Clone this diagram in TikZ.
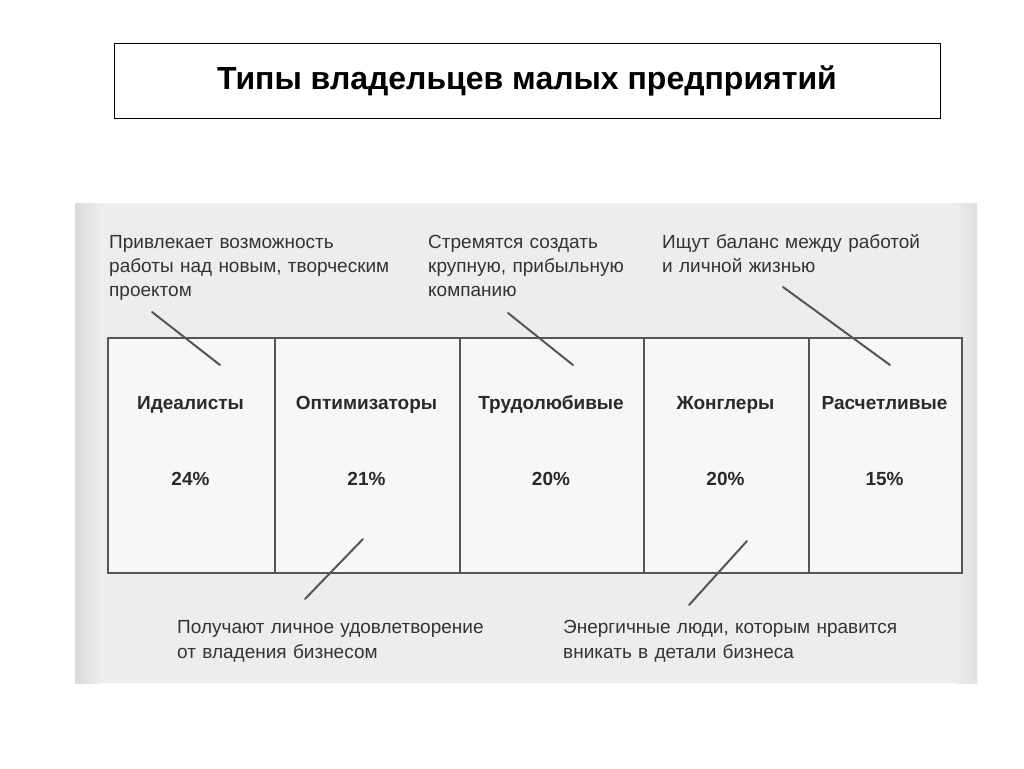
\documentclass[tikz,border=0pt]{standalone}
\usepackage{fontspec}
\setmainfont{Liberation Sans}
\definecolor{labelgray}{HTML}{333333}
\definecolor{hdrgray}{HTML}{2A2A2A}
\definecolor{linegray}{HTML}{555555}
\definecolor{scangray}{HTML}{EDEDED}
\definecolor{scandark}{HTML}{DADADA}
\definecolor{cellwhite}{HTML}{F7F7F7}
\begin{document}
\begin{tikzpicture}[x=1pt,y=-1pt,
  lbl/.style={anchor=base west, inner sep=0pt, text width=360pt, align=left, text=labelgray, font=\fontsize{19}{24}\selectfont},
  hdr/.style={anchor=base, inner sep=0pt, text=hdrgray, font=\bfseries\fontsize{19}{22}\selectfont},
  cellbox/.style={draw=linegray, line width=2pt, fill=cellwhite, inner sep=0pt, anchor=north west, minimum height=235pt},
  conn/.style={draw=linegray, line width=2pt, line cap=round},
  titlebox/.style={draw=black, line width=1pt, fill=white, minimum width=826pt, minimum height=74pt, inner sep=0pt, font=\bfseries\fontsize{32}{36}\selectfont}]
\useasboundingbox (0,0) rectangle (1024,768);
\fill[white] (0,0) rectangle (1024,768);
% title
\node[titlebox] (title) at (527,81) {Типы владельцев малых предприятий};
% scanned page
\fill[scangray] (75,203) rectangle (977,683);
\shade[left color=scandark, right color=scangray] (75,203) rectangle (100,683);
\shade[left color=scangray, right color=scandark!70!scangray] (955,203) rectangle (977,683);
% table cells
\node[cellbox, minimum width=167pt] (cell1) at (107,337) {};
\node[cellbox, minimum width=185pt] (cell2) at (274,337) {};
\node[cellbox, minimum width=184pt] (cell3) at (459,337) {};
\node[cellbox, minimum width=165pt] (cell4) at (643,337) {};
\node[cellbox, minimum width=153pt] (cell5) at (808,337) {};
% headers
\node[hdr] (h1) at (190.5,409) {Идеалисты};
\node[hdr] (h2) at (366.5,409) {Оптимизаторы};
\node[hdr] (h3) at (551,409) {Трудолюбивые};
\node[hdr] (h4) at (725.5,409) {Жонглеры};
\node[hdr] (h5) at (884.5,409) {Расчетливые};
\node[hdr] (p1) at (190.5,485) {24\%};
\node[hdr] (p2) at (366.5,485) {21\%};
\node[hdr] (p3) at (551,485) {20\%};
\node[hdr] (p4) at (725.5,485) {20\%};
\node[hdr] (p5) at (884.5,485) {15\%};
% labels
\node[lbl] (l1) at (109,248) {Привлекает возможность\\работы над новым, творческим\\проектом};
\node[lbl] (l3) at (428,248) {Стремятся создать\\крупную, прибыльную\\компанию};
\node[lbl] (l5) at (662,248) {Ищут баланс между работой\\и личной жизнью};
\node[lbl, font=\fontsize{19}{25}\selectfont] (l2) at (177,633) {Получают личное удовлетворение\\от владения бизнесом};
\node[lbl, font=\fontsize{19}{25}\selectfont] (l4) at (563,633) {Энергичные люди, которым нравится\\вникать в детали бизнеса};
% connectors
\coordinate (a1) at (152,312); \coordinate (a2) at (220,365);
\coordinate (b1) at (508,313); \coordinate (b2) at (573,365);
\coordinate (c1) at (783,287); \coordinate (c2) at (890,365);
\coordinate (d1) at (363,539); \coordinate (d2) at (305,599);
\coordinate (e1) at (747,541); \coordinate (e2) at (689,605);
\draw[conn] (a1) -- (a2);
\draw[conn] (b1) -- (b2);
\draw[conn] (c1) -- (c2);
\draw[conn] (d1) -- (d2);
\draw[conn] (e1) -- (e2);
\end{tikzpicture}
\end{document}
